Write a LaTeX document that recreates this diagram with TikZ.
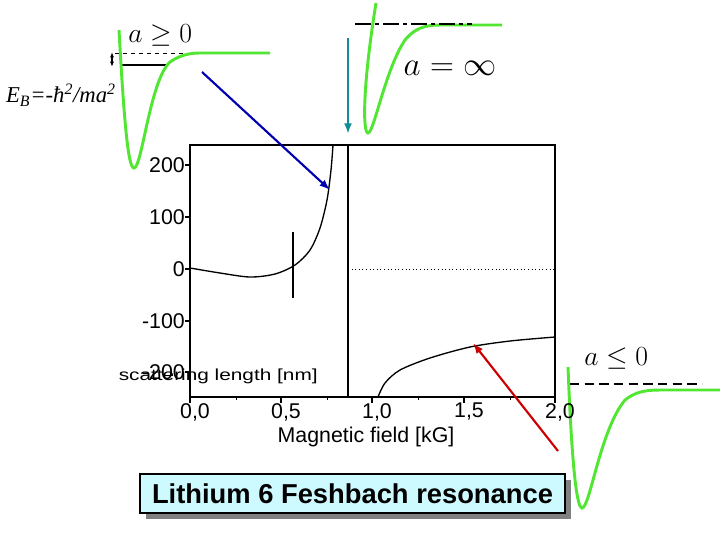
\documentclass[tikz,border=0pt]{standalone}
\usepackage{fontspec}
\setmainfont{Liberation Serif}
\setsansfont{Liberation Sans}
\usetikzlibrary{arrows.meta}
\definecolor{wellgreen}{RGB}{80,230,50}
\definecolor{boxcyan}{RGB}{205,250,255}
\definecolor{arrteal}{RGB}{20,140,150}
\tikzset{
 well/.style={wellgreen,line width=2.2pt},
 tick/.style={line width=1pt},
 ticklab/.style={font=\sffamily\fontsize{16}{17}\selectfont,inner sep=0pt},
 arr/.style={line width=1.6pt,-{Latex[length=8pt,width=6pt]}},
 mathlab/.style={font=\fontsize{22}{24}\selectfont,inner sep=0pt}
}
\begin{document}
\begin{tikzpicture}[x=0.75pt,y=-0.75pt]
\useasboundingbox (0,0) rectangle (720,540);
% left well
\draw[dashed,line width=0.6pt] (115,53) -- (195,53);
\draw[line width=2pt] (122,65) -- (166,65);
\draw[well] (119,30) .. controls (124,120) and (128,168) .. (134,168) .. controls (142,168) and (150,80) .. (170,62) .. controls (180,55) and (190,53) .. (200,53) -- (270,53);
\coordinate (da) at (112,52); \coordinate (db) at (112,67);
\draw[line width=1pt,{Latex[length=4pt]}-{Latex[length=4pt]}] (da) -- (db);
\node[mathlab,anchor=west] (a1) at (128,35) {$a\ge 0$};
\node[inner sep=0pt,anchor=east,font=\itshape\fontsize{17}{18}\selectfont] (eb) at (116,95) {E\textsubscript{B}=-\textit{ħ}\textsuperscript{2}/ma\textsuperscript{2}};
% middle well
\draw[well] (376,3) .. controls (362,90) and (363,133) .. (368,133) .. controls (374,133) and (385,70) .. (405,40) .. controls (415,28) and (425,25) .. (440,25) -- (502,25);
\draw[line width=1.8pt,dash pattern=on 12pt off 3pt on 3pt off 3pt] (355,24) -- (472,24);
\node[mathlab,font=\fontsize{27}{28}\selectfont] (ainf) at (450,68) {$a=\infty$};
% right well
\draw[dashed,line width=1.8pt,dash pattern=on 7pt off 4pt] (570,384) -- (702,384);
\draw[well] (568,367) .. controls (572,470) and (577,508) .. (582,508) .. controls (590,508) and (600,430) .. (625,400) .. controls (635,392) and (645,390) .. (660,390) -- (720,390);
\node[mathlab,anchor=west] (a3) at (584,358) {$a\le 0$};
% plot frame
\draw[line width=1.5pt] (190,145) rectangle (555,397);
\draw[line width=0.7pt,dotted] (348,269) -- (555,269);
\draw[line width=1.3pt] (348,145) -- (348,397);
\draw[line width=1pt] (293,232) -- (293,298);
% y ticks
\foreach \y/\l in {165/200,217/100,269/0,321/-100,372/-200}{
 \draw[tick] (190,\y) -- (185,\y);
 \node[ticklab,anchor=east] at (185,\y) {\l};
}
% x ticks
\foreach \x/\l in {190/{0,0},281/{0,5},372/{1,0},464/{1,5},555/{2,0}}{
 \draw[tick] (\x,397) -- (\x,403);
 \node[ticklab,anchor=north] at (\x+5,403) {\l};
}
\foreach \x in {236,327,418,510}{\draw[line width=0.6pt] (\x,397) -- (\x,400);}
\node[ticklab] (xl) at (366,437) {Magnetic field [kG]};
\node[inner sep=0pt,font=\sffamily\fontsize{12}{12}\selectfont,xscale=1.3,anchor=east] (yl) at (318,376) {scattering length [nm]};
% curves
\draw[line width=1pt] plot[smooth] coordinates {(190,268) (220,273) (250,277) (275,274) (295,265) (310,250) (320,228) (327,200) (331,170) (333,145)};
\draw[line width=1pt] plot[smooth] coordinates {(378,397) (385,383) (400,370) (430,358) (470,347) (510,341) (555,337)};
% arrows
\coordinate (b1) at (202,72); \coordinate (b2) at (330,190);
\draw[arr,blue!70!black] (b1) -- (b2);
\coordinate (t1) at (348,38); \coordinate (t2) at (348,134);
\draw[arr,arrteal] (t1) -- (t2);
\coordinate (r1) at (558,451); \coordinate (r2) at (473,343);
\draw[arr,red!80!black] (r1) -- (r2);
% title box
\fill[gray] (146,480) rectangle (571,519);
\node[draw,line width=0.8pt,fill=boxcyan,minimum width=425*0.75pt,minimum height=39*0.75pt,inner sep=0pt,font=\sffamily\bfseries\fontsize{20.5}{22}\selectfont] (title) at (352.5,493.5) {Lithium 6 Feshbach resonance};
\end{tikzpicture}
\end{document}
